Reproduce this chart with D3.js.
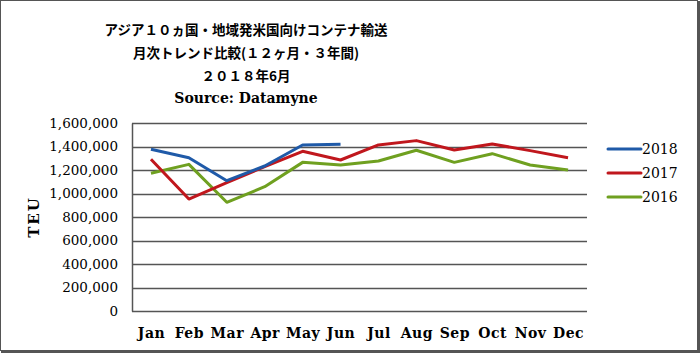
<!DOCTYPE html>
<html>
<head>
<meta charset="utf-8">
<script src="https://cdn.jsdelivr.net/npm/d3@7"></script>
<style>
  body { margin: 0; background: #fff; }
  svg { display: block; }
</style>
</head>
<body>
<div id="chart"></div>
<script>
// データ
const months = ["Jan", "Feb", "Mar", "Apr", "May", "Jun", "Jul", "Aug", "Sep", "Oct", "Nov", "Dec"];
const teu2018 = [1376000, 1305000, 1109000, 1234000, 1413000, 1419000];
const teu2017 = [1291000, 953000, 1092000, 1228000, 1359000, 1285000, 1413000, 1450000, 1370000, 1421000, 1365000, 1305000];
const teu2016 = [1172000, 1248000, 925000, 1058000, 1265000, 1243000, 1277000, 1368000, 1265000, 1339000, 1243000, 1200000];
const yTicks = [0, 200000, 400000, 600000, 800000, 1000000, 1200000, 1400000, 1600000];
const titleLines = ["アジア１０ヵ国・地域発米国向けコンテナ輸送", "月次トレンド比較(１２ヶ月・３年間)", "２０１８年6月", "Source: Datamyne"];

const series = [
  { name: "2018", values: teu2018, color: "#1f5aa8" },
  { name: "2017", values: teu2017, color: "#c0171d" },
  { name: "2016", values: teu2016, color: "#6fa020" }
];

const width = 700, height = 353;
const margin = { top: 123, right: 113, bottom: 42, left: 132 };

const svg = d3.select("#chart").append("svg")
  .attr("width", width)
  .attr("height", height);

// 枠
svg.append("rect")
  .attr("x", 0.5).attr("y", 0.5)
  .attr("width", width - 3).attr("height", height - 3)
  .attr("fill", "#fff")
  .attr("stroke", "#555")
  .attr("stroke-width", 1);
svg.append("path")
  .attr("d", `M${width - 1.5},1V${height - 1.5}H1`)
  .attr("fill", "none")
  .attr("stroke", "#555")
  .attr("stroke-width", 3);

// タイトル
svg.append("g")
  .selectAll("text")
  .data(titleLines)
  .enter()
  .append("text")
  .attr("x", 246)
  .attr("y", (d, i) => 29 + i * 23)
  .attr("dominant-baseline", "central")
  .attr("text-anchor", "middle")
  .attr("font-family", (d, i) => i === 3 ? "DejaVu Serif" : "'Noto Sans CJK JP'")
  .attr("font-weight", "bold")
  .attr("font-size", (d, i) => i === 3 ? 14 : 13.5)
  .attr("fill", "#000")
  .text(d => d);

const x = d3.scalePoint()
  .domain(months)
  .range([margin.left, width - margin.right])
  .padding(0.5);

const y = d3.scaleLinear()
  .domain([0, 1600000])
  .range([height - margin.bottom, margin.top]);

// グリッド
svg.append("g")
  .selectAll("line")
  .data(yTicks)
  .enter()
  .append("line")
  .attr("x1", margin.left)
  .attr("x2", width - margin.right)
  .attr("y1", d => Math.round(y(d)) + 0.5)
  .attr("y2", d => Math.round(y(d)) + 0.5)
  .attr("stroke", "#555")
  .attr("stroke-width", 1.5);

// y軸
const yAxis = svg.append("g")
  .attr("transform", `translate(${margin.left},0)`)
  .call(d3.axisLeft(y).tickValues(yTicks).tickFormat(d3.format(",")).tickSize(0).tickPadding(14));
yAxis.select(".domain").attr("stroke", "#555").attr("stroke-width", 1.5);
yAxis.selectAll("text")
  .attr("font-family", "DejaVu Serif")
  .attr("font-size", 13.5)
  .attr("fill", "#000");

// x軸
const xAxis = svg.append("g")
  .attr("transform", `translate(0,${height - margin.bottom})`)
  .call(d3.axisBottom(x).tickSize(0).tickPadding(17));
xAxis.select(".domain").remove();
xAxis.selectAll("text")
  .attr("font-family", "DejaVu Serif")
  .attr("font-weight", "bold")
  .attr("font-size", 14)
  .attr("letter-spacing", 0.5)
  .attr("fill", "#000");

// y軸ラベル
svg.append("text")
  .attr("transform", "translate(34,217) rotate(-90)")
  .attr("text-anchor", "middle")
  .attr("dominant-baseline", "central")
  .attr("font-family", "DejaVu Serif")
  .attr("font-weight", "bold")
  .attr("font-size", 15)
  .attr("letter-spacing", 2)
  .text("TEU");

// 折れ線
const line = d3.line()
  .x((d, i) => x(months[i]))
  .y(d => y(d));

svg.append("g")
  .selectAll("path")
  .data(series.slice().reverse())
  .enter()
  .append("path")
  .attr("d", d => line(d.values))
  .attr("fill", "none")
  .attr("stroke", d => d.color)
  .attr("stroke-width", 3)
  .attr("stroke-linejoin", "round");

// 凡例
const legend = svg.append("g")
  .selectAll("g")
  .data(series)
  .enter()
  .append("g")
  .attr("transform", (d, i) => `translate(608,${149 + i * 24})`);
legend.append("line")
  .attr("x1", 0).attr("x2", 33)
  .attr("stroke", d => d.color)
  .attr("stroke-width", 3)
  .attr("stroke-linecap", "round");
legend.append("text")
  .attr("x", 34)
  .attr("dominant-baseline", "central")
  .attr("font-family", "DejaVu Serif")
  .attr("font-size", 14)
  .text(d => d.name);
</script>
</body>
</html>
